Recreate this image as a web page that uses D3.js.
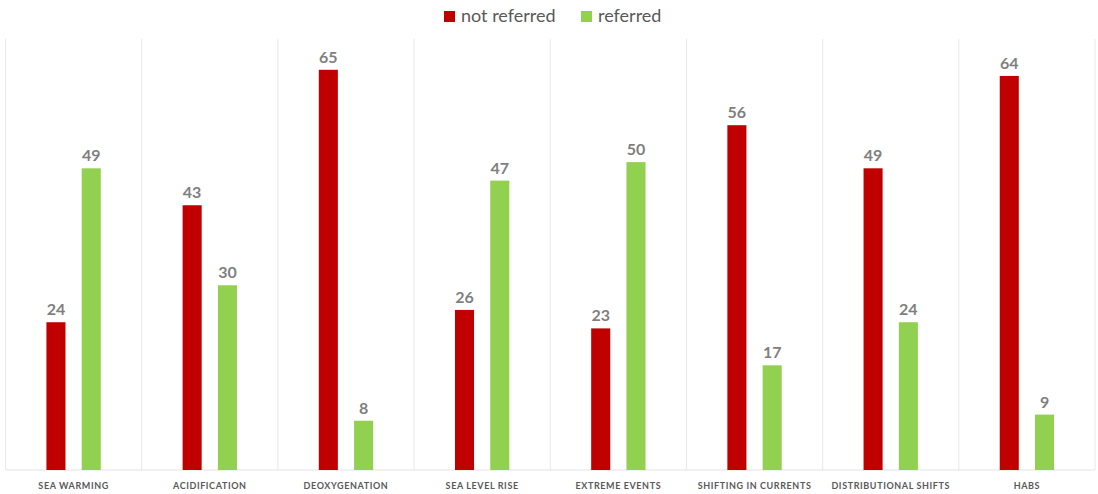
<!DOCTYPE html>
<html>
<head>
<meta charset="utf-8">
<script src="https://cdn.jsdelivr.net/npm/d3@7"></script>
<style>
  body { margin: 0; background: #fff; }
  svg { font-family: Lato, "Open Sans", sans-serif; }
</style>
</head>
<body>
<div id="chart"></div>
<script>
const categories = [
  "SEA WARMING", "ACIDIFICATION", "DEOXYGENATION", "SEA LEVEL RISE",
  "EXTREME EVENTS", "SHIFTING IN CURRENTS", "DISTRIBUTIONAL SHIFTS", "HABS"
];
const seriesNames = ["not referred", "referred"];
const notReferred = [24, 43, 65, 26, 23, 56, 49, 64];
const referred = [49, 30, 8, 47, 50, 17, 24, 9];
const yMax = 70;

const colors = { "not referred": "#C00000", "referred": "#92D050" };

const width = 1098, height = 494;
const margin = { top: 39, right: 3, bottom: 24, left: 5.5 };

const svg = d3.select("#chart").append("svg")
  .attr("width", width)
  .attr("height", height);

const x0 = d3.scaleBand()
  .domain(categories)
  .range([margin.left, width - margin.right])
  .paddingInner(0).paddingOuter(0);

const x1 = d3.scaleBand()
  .domain(seriesNames)
  .range([0, x0.bandwidth()])
  .paddingInner(0.46)
  .paddingOuter(1.16);

const y = d3.scaleLinear()
  .domain([0, yMax])
  .range([height - margin.bottom, margin.top]);

// separators between categories
const edges = categories.map((c) => x0(c)).concat([x0.range()[1]]);
svg.append("g").selectAll("line")
  .data(edges)
  .enter().append("line")
  .attr("x1", (d) => d).attr("x2", (d) => d)
  .attr("y1", y(yMax)).attr("y2", y(0))
  .attr("stroke", "#e8e8e8")
  .attr("stroke-width", 1);

// baseline
svg.append("line")
  .attr("x1", x0.range()[0]).attr("x2", x0.range()[1])
  .attr("y1", y(0)).attr("y2", y(0))
  .attr("stroke", "#e3e3e3");

const rows = categories.map((c, i) => ({
  category: c,
  values: [
    { key: "not referred", value: notReferred[i] },
    { key: "referred", value: referred[i] },
  ],
}));

const groups = svg.append("g").selectAll("g")
  .data(rows)
  .enter().append("g")
  .attr("transform", (d) => `translate(${x0(d.category)},0)`);

groups.selectAll("rect")
  .data((d) => d.values)
  .enter().append("rect")
  .attr("x", (d) => x1(d.key))
  .attr("y", (d) => y(d.value))
  .attr("width", x1.bandwidth())
  .attr("height", (d) => y(0) - y(d.value))
  .attr("fill", (d) => colors[d.key]);

groups.selectAll("text.val")
  .data((d) => d.values)
  .enter().append("text")
  .attr("class", "val")
  .attr("x", (d) => x1(d.key) + x1.bandwidth() / 2)
  .attr("y", (d) => y(d.value) - 7)
  .attr("text-anchor", "middle")
  .attr("fill", "#7f7f7f")
  .style("font-size", "16px")
  .style("font-weight", "bold")
  .text((d) => d.value);

// category labels
svg.append("g").selectAll("text")
  .data(categories)
  .enter().append("text")
  .attr("x", (d) => x0(d) + x0.bandwidth() / 2)
  .attr("y", 489)
  .attr("text-anchor", "middle")
  .attr("fill", "#595959")
  .style("font-size", "9px")
  .style("font-weight", "bold")
  .style("letter-spacing", "0.6px")
  .text((d) => d);

// legend
const legend = svg.append("g");
const legendItems = [
  { key: "not referred", x: 444 },
  { key: "referred", x: 581 },
];
legendItems.forEach((item) => {
  legend.append("rect")
    .attr("x", item.x).attr("y", 11)
    .attr("width", 11).attr("height", 11)
    .attr("fill", colors[item.key]);
  legend.append("text")
    .attr("x", item.x + 17).attr("y", 22)
    .attr("fill", "#595959")
    .style("font-size", "18px")
    .text(item.key);
});
</script>
</body>
</html>
